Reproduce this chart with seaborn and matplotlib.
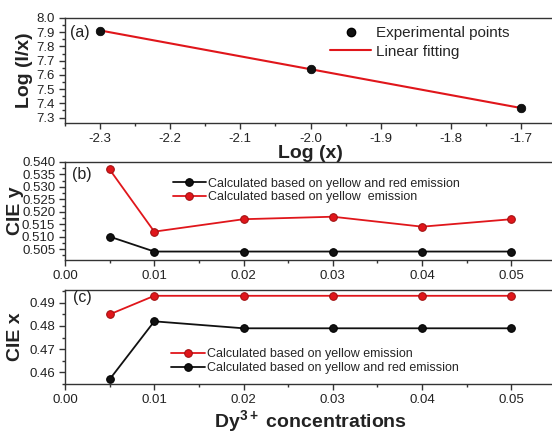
import numpy as np
import pandas as pd
import matplotlib
matplotlib.use("Agg")
import matplotlib.pyplot as plt
import seaborn as sns
from matplotlib.ticker import MultipleLocator, FormatStrFormatter, FixedLocator
from matplotlib.lines import Line2D

# ---- data ----
log_x = [-2.3, -2.0, -1.7]
log_ix = [7.91, 7.645, 7.365]
log_x_ticks = [-2.3, -2.2, -2.1, -2.0, -1.9, -1.8, -1.7]

conc = [0.005, 0.01, 0.02, 0.03, 0.04, 0.05]
ciey_yellow = [0.537, 0.512, 0.517, 0.518, 0.514, 0.517]
ciey_yellow_red = [0.510, 0.504, 0.504, 0.504, 0.504, 0.504]
ciex_yellow = [0.485, 0.493, 0.493, 0.493, 0.493, 0.493]
ciex_yellow_red = [0.457, 0.482, 0.479, 0.479, 0.479, 0.479]
ciey_ticks = [0.505, 0.510, 0.515, 0.520, 0.525, 0.530, 0.535, 0.540]

lab_exp = "Experimental points"
lab_fit = "Linear fitting"
lab_yr = "Calculated based on yellow and red emission"
lab_y_b = "Calculated based on yellow  emission"
lab_y_c = "Calculated based on yellow emission"

sns.set_style("ticks")
plt.rcParams['font.family'] = ['Liberation Sans', 'DejaVu Sans']
plt.rcParams['mathtext.fontset'] = 'custom'
plt.rcParams['mathtext.rm'] = 'Liberation Sans'
plt.rcParams['mathtext.bf'] = 'Liberation Sans:bold'
plt.rcParams['axes.linewidth'] = 1.0
plt.rcParams['axes.edgecolor'] = '#333333'

RED = '#e0161b'
RED_EDGE = '#a01010'
BLK = '#111111'
MS = 5.5
TXT = '#222222'

W, H = 552, 438
fig = plt.figure(figsize=(W / 100, H / 100), dpi=100)

def rect(l, t, r, b):
    return [l / W, 1 - b / H, (r - l) / W, (b - t) / H]

def fpos(x, y):
    return (x / W, 1 - y / H)

L, R = 65, 556
ax_a = fig.add_axes(rect(L, 18, R, 123))
ax_b = fig.add_axes(rect(L, 162, R, 260))
ax_c = fig.add_axes(rect(L, 290, R, 384))

def style(ax):
    for s in ['top', 'right', 'left', 'bottom']:
        ax.spines[s].set_visible(True)
        ax.spines[s].set_color('#333333')
    ax.tick_params(axis='both', which='major', direction='out', length=4.3, width=1,
                   labelsize=9.5, colors='#333333', labelcolor=TXT, pad=2.8)
    ax.tick_params(axis='both', which='minor', direction='out', length=2.3, width=1,
                   colors='#333333')
    ax.tick_params(top=False, right=False, which='both')

# ---- panel (a) ----
df_a = pd.DataFrame({'x': log_x, 'y': log_ix})
sns.regplot(data=df_a, x='x', y='y', ax=ax_a, ci=None, scatter=False,
            line_kws=dict(color=RED, lw=1.5))
sns.scatterplot(data=df_a, x='x', y='y', ax=ax_a, color=BLK, s=38,
                edgecolor='#000000', linewidth=0.5, zorder=5, legend=False)
ax_a.set_xlim(-2.35, -1.65)
ax_a.set_ylim(7.262, 8.0)
ax_a.xaxis.set_major_locator(FixedLocator(log_x_ticks))
ax_a.xaxis.set_minor_locator(MultipleLocator(0.05))
ax_a.yaxis.set_major_locator(MultipleLocator(0.1))
ax_a.yaxis.set_minor_locator(MultipleLocator(0.05))
ax_a.xaxis.set_major_formatter(FormatStrFormatter('%.1f'))
ax_a.yaxis.set_major_formatter(FormatStrFormatter('%.1f'))
style(ax_a)
ax_a.set_xlabel('Log (x)', fontsize=14, fontweight='bold', color=TXT)
ax_a.xaxis.set_label_coords(0.5, -(144.5 - 123) / 105)
ax_a.set_ylabel('Log (I/x)', fontsize=14, fontweight='bold', color=TXT)
ax_a.yaxis.set_label_coords((33 - L) / (R - L), 0.5)
h_exp = Line2D([], [], ls='none', marker='o', color=BLK, markersize=6,
               markeredgecolor='#000000')
h_fit = Line2D([], [], color=RED, lw=1.5)
ax_a.legend([h_exp, h_fit], [lab_exp, lab_fit], loc='upper left',
            bbox_to_anchor=fpos(330, 26), bbox_transform=fig.transFigure,
            frameon=False, fontsize=11, borderpad=0, borderaxespad=0,
            handlelength=2.7, handletextpad=0.33, labelspacing=0.3)
fig.text(*fpos(70, 33), '(a)', fontsize=11.5, va='center', ha='left', color=TXT)

# ---- panel (b) ----
sns.lineplot(x=conc, y=ciey_yellow_red, ax=ax_b, color=BLK, lw=1.3, marker='o',
             markersize=MS, markeredgecolor='#000000', label=lab_yr)
sns.lineplot(x=conc, y=ciey_yellow, ax=ax_b, color=RED, lw=1.3, marker='o',
             markersize=MS, markeredgecolor=RED_EDGE, label=lab_y_b)
ax_b.set_xlim(0, 0.055)
ax_b.set_ylim(0.5006, 0.540)
ax_b.xaxis.set_major_locator(MultipleLocator(0.01))
ax_b.xaxis.set_minor_locator(MultipleLocator(0.005))
ax_b.yaxis.set_major_locator(FixedLocator(ciey_ticks))
ax_b.yaxis.set_minor_locator(MultipleLocator(0.0025))
ax_b.xaxis.set_major_formatter(FormatStrFormatter('%.2f'))
ax_b.yaxis.set_major_formatter(FormatStrFormatter('%.3f'))
style(ax_b)
ax_b.set_ylabel('CIE y', fontsize=14, fontweight='bold', color=TXT)
ax_b.yaxis.set_label_coords((24 - L) / (R - L), 0.5)
ax_b.legend(loc='upper left', bbox_to_anchor=fpos(172.5, 177.5),
            bbox_transform=fig.transFigure, frameon=False, fontsize=9,
            borderpad=0, borderaxespad=0,
            handlelength=2.68, handletextpad=0.2, labelspacing=0.12)
fig.text(*fpos(72, 175), '(b)', fontsize=11.5, va='center', ha='left', color=TXT)

# ---- panel (c) ----
sns.lineplot(x=conc, y=ciex_yellow, ax=ax_c, color=RED, lw=1.3, marker='o',
             markersize=MS, markeredgecolor=RED_EDGE, label=lab_y_c)
sns.lineplot(x=conc, y=ciex_yellow_red, ax=ax_c, color=BLK, lw=1.3, marker='o',
             markersize=MS, markeredgecolor='#000000', label=lab_yr)
ax_c.set_xlim(0, 0.055)
ax_c.set_ylim(0.455, 0.4955)
ax_c.xaxis.set_major_locator(MultipleLocator(0.01))
ax_c.xaxis.set_minor_locator(MultipleLocator(0.005))
ax_c.yaxis.set_major_locator(MultipleLocator(0.01))
ax_c.yaxis.set_minor_locator(MultipleLocator(0.005))
ax_c.xaxis.set_major_formatter(FormatStrFormatter('%.2f'))
ax_c.yaxis.set_major_formatter(FormatStrFormatter('%.2f'))
style(ax_c)
ax_c.set_xlabel('Dy$^{\\mathbf{3+}}$ concentrations', fontsize=14,
                fontweight='bold', color=TXT)
ax_c.xaxis.set_label_coords(0.5, -(408 - 384) / 94)
ax_c.set_ylabel('CIE x', fontsize=14, fontweight='bold', color=TXT)
ax_c.yaxis.set_label_coords((24 - L) / (R - L), 0.5)
ax_c.legend(loc='upper left', bbox_to_anchor=fpos(171, 348),
            bbox_transform=fig.transFigure, frameon=False, fontsize=9,
            borderpad=0, borderaxespad=0,
            handlelength=2.68, handletextpad=0.2, labelspacing=0.2)
fig.text(*fpos(73, 297.5), '(c)', fontsize=11.5, va='center', ha='left', color=TXT)

fig.savefig('out.png', dpi=100)
